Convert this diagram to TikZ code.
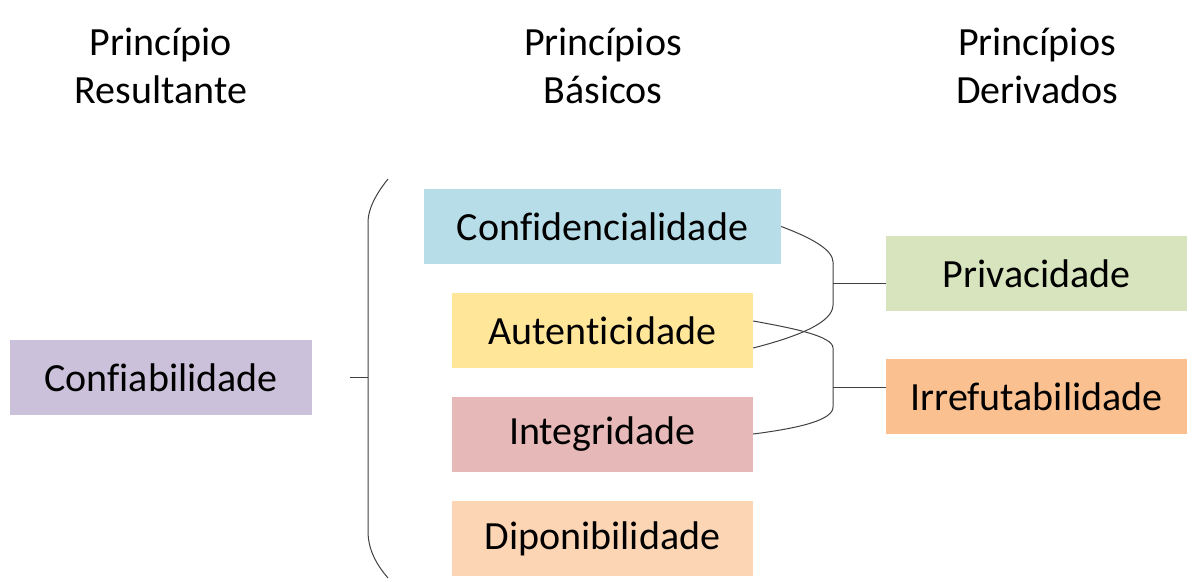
\documentclass[tikz,border=0pt]{standalone}
\usepackage{fontspec}
\setmainfont{Carlito}[Ligatures={NoCommon}]
\definecolor{cLav}{HTML}{CCC1DA}
\definecolor{cBlue}{HTML}{B7DEE8}
\definecolor{cYel}{HTML}{FFE699}
\definecolor{cPink}{HTML}{E6B9B8}
\definecolor{cPeach}{HTML}{FCD5B5}
\definecolor{cGreen}{HTML}{D7E4BD}
\definecolor{cOrange}{HTML}{FAC090}
\definecolor{cLine}{HTML}{404040}
\begin{document}
\begin{tikzpicture}[x=1pt,y=-1pt,
  box/.style={inner sep=0pt, minimum height=75pt, font=\fontsize{40}{48}\selectfont},
  head/.style={align=center, inner sep=0pt, font=\fontsize{40}{48}\selectfont},
  conn/.style={draw=cLine, line width=1pt}]
\useasboundingbox (0,0) rectangle (1198,581);
% headers
\node[head] (h1) at (161,66) {Princípio\\Resultante};
\node[head] (h2) at (603,66) {Princípios\\Básicos};
\node[head] (h3) at (1037,66) {Princípios\\Derivados};
% boxes
\node[box, fill=cLav, minimum width=302pt] (conf) at (161,377.5) {Confiabilidade};
\node[box, fill=cBlue, minimum width=357pt] (confid) at (602.5,226.5) {Confidencialidade};
\node[box, fill=cYel, minimum width=301pt] (aut) at (602.5,330.5) {Autenticidade};
\node[box, fill=cPink, minimum width=301pt] (integ) at (602.5,434) {Integridade};
\node[box, fill=cPeach, minimum width=301pt] (dispo) at (602.5,538.5) {Diponibilidade};
\node[box, fill=cGreen, minimum width=301pt] (priv) at (1036.5,273.5) {Privacidade};
\node[box, fill=cOrange, minimum width=301pt] (irref) at (1036.5,396.5) {Irrefutabilidade};
% brace
\coordinate (bt) at (388,179);
\coordinate (bb) at (388,578);
\coordinate (bm) at (368,377);
\coordinate (tk) at (350,377);
\draw[conn] (bt) .. controls (375,195) and (368,210) .. (368,222) -- (368,531) .. controls (368,548) and (375,563) .. (bb);
\draw[conn] (tk) -- (bm);
% connectors
\coordinate (j1) at (833,283);
\coordinate (j2) at (833,387);
\draw[conn] (confid.east) .. controls (812,238) and (833,250) .. (833,262) -- (833,305) .. controls (833,322) and (800,336) .. ([yshift=-17.5pt]aut.east);
\draw[conn] ([yshift=9.5pt]aut.east) .. controls (792,328) and (833,336) .. (833,348) -- (833,407) .. controls (833,420) and (800,428) .. (integ.east);
\draw[conn] (j1) -- (j1 -| priv.west);
\draw[conn] (j2) -- (j2 -| irref.west);
\end{tikzpicture}
\end{document}
